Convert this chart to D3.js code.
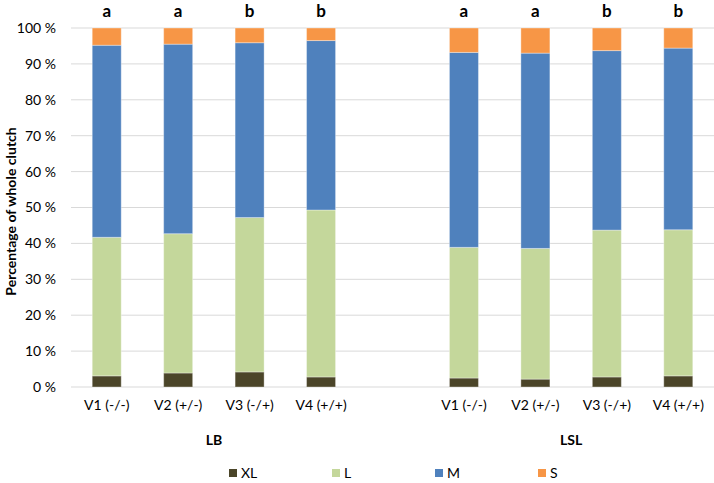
<!DOCTYPE html>
<html>
<head>
<meta charset="utf-8">
<script src="https://cdn.jsdelivr.net/npm/d3@7"></script>
<style>
  html, body { margin: 0; padding: 0; background: #fff; }
  svg { display: block; font-family: Lato, "Liberation Sans", sans-serif; }
</style>
</head>
<body>
<svg id="chart" width="714" height="483"></svg>
<script>
// ---- data ----
const groups = ["LB", "LSL"];
const varieties = ["V1 (-/-)", "V2 (+/-)", "V3 (-/+)", "V4 (+/+)"];
const seriesNames = ["XL", "L", "M", "S"];
const seriesColors = ["#4b4529", "#c4d79b", "#4f81bd", "#f79646"];
// segment percentages, order: LB V1..V4, LSL V1..V4
const xlValues = [3.1, 3.9, 4.2, 2.8, 2.5, 2.2, 2.8, 3.1];
const lValues  = [38.6, 38.8, 43.0, 46.5, 36.4, 36.4, 40.9, 40.7];
const mValues  = [53.5, 52.8, 48.7, 47.2, 54.3, 54.4, 50.0, 50.6];
const sValues  = [4.8, 4.5, 4.1, 3.5, 6.8, 7.0, 6.3, 5.6];
const letters  = ["a", "a", "b", "b", "a", "a", "b", "b"];
const yTicks = [0, 10, 20, 30, 40, 50, 60, 70, 80, 90, 100];
const yTitle = "Percentage of whole clutch";

// ---- build rows ----
const rows = [];
groups.forEach((g, gi) => varieties.forEach((v, vi) => {
  const i = gi * varieties.length + vi;
  rows.push({ key: g + "|" + v, group: g, variety: v, letter: letters[i],
    XL: xlValues[i], L: lValues[i], M: mValues[i], S: sValues[i] });
}));
const slots = [...rows.slice(0, 4).map(r => r.key), "gap", ...rows.slice(4).map(r => r.key)];

const svg = d3.select("#chart");
const plotLeft = 71, plotRight = 714, plotTop = 28, plotBottom = 387;

const x = d3.scaleBand().domain(slots).range([plotLeft, plotRight])
  .paddingInner(0.594).paddingOuter(0.297);
const y = d3.scaleLinear().domain([0, 100]).range([plotBottom, plotTop]);

// gridlines
svg.append("g").selectAll("line").data(yTicks).join("line")
  .attr("x1", plotLeft).attr("x2", plotRight)
  .attr("y1", d => y(d)).attr("y2", d => y(d))
  .attr("stroke", "#d9d9d9").attr("stroke-width", 1);

// y axis labels
const yAxis = d3.axisLeft(y).tickValues(yTicks).tickSize(0).tickPadding(0)
  .tickFormat(d => d + " %");
const gy = svg.append("g").attr("transform", `translate(56,0)`).call(yAxis);
gy.select(".domain").remove();
gy.selectAll("text").attr("font-size", 14).attr("fill", "#000")
  .attr("font-family", "Lato, sans-serif");

// stacked bars
const stack = d3.stack().keys(seriesNames);
const stacked = stack(rows);
svg.append("g").selectAll("g").data(stacked).join("g")
  .attr("fill", (d, i) => seriesColors[i])
  .selectAll("rect").data(d => d).join("rect")
  .attr("x", d => x(d.data.key))
  .attr("width", x.bandwidth())
  .attr("y", d => y(d[1]))
  .attr("height", d => y(d[0]) - y(d[1]))
  .attr("stroke", "#ffffff").attr("stroke-opacity", 0.35).attr("stroke-width", 1);

// letters above bars
svg.append("g").selectAll("text").data(rows).join("text")
  .attr("x", d => x(d.key) + x.bandwidth() / 2)
  .attr("y", 17)
  .attr("text-anchor", "middle")
  .attr("font-size", 17).attr("font-weight", "bold")
  .text(d => d.letter);

// category labels
const xAxis = d3.axisBottom(x).tickSize(0).tickPadding(0)
  .tickFormat(k => k === "gap" ? "" : k.split("|")[1]);
const gx = svg.append("g").attr("transform", `translate(0,${plotBottom + 13})`).call(xAxis);
gx.select(".domain").remove();
gx.selectAll("text").attr("font-size", 14).attr("fill", "#000")
  .attr("font-family", "Lato, sans-serif");

// group labels
groups.forEach(g => {
  const keys = rows.filter(r => r.group === g).map(r => r.key);
  const cx = (x(keys[0]) + x(keys[keys.length - 1]) + x.bandwidth()) / 2;
  svg.append("text").attr("x", cx).attr("y", 445)
    .attr("text-anchor", "middle").attr("font-size", 14).attr("font-weight", "bold")
    .text(g);
});

// y title
svg.append("text")
  .attr("transform", `translate(16,${(plotTop + plotBottom) / 2 + 4}) rotate(-90)`)
  .attr("text-anchor", "middle").attr("font-size", 14).attr("font-weight", "bold")
  .text(yTitle);

// legend
const legendX = [229, 332, 435, 538];
const lg = svg.append("g").selectAll("g").data(seriesNames).join("g")
  .attr("transform", (d, i) => `translate(${legendX[i]},469)`);
lg.append("rect").attr("width", 8).attr("height", 8)
  .attr("fill", (d, i) => seriesColors[i]);
lg.append("text").attr("x", 12).attr("y", 9).attr("font-size", 14)
  .text(d => d);
</script>
</body>
</html>
